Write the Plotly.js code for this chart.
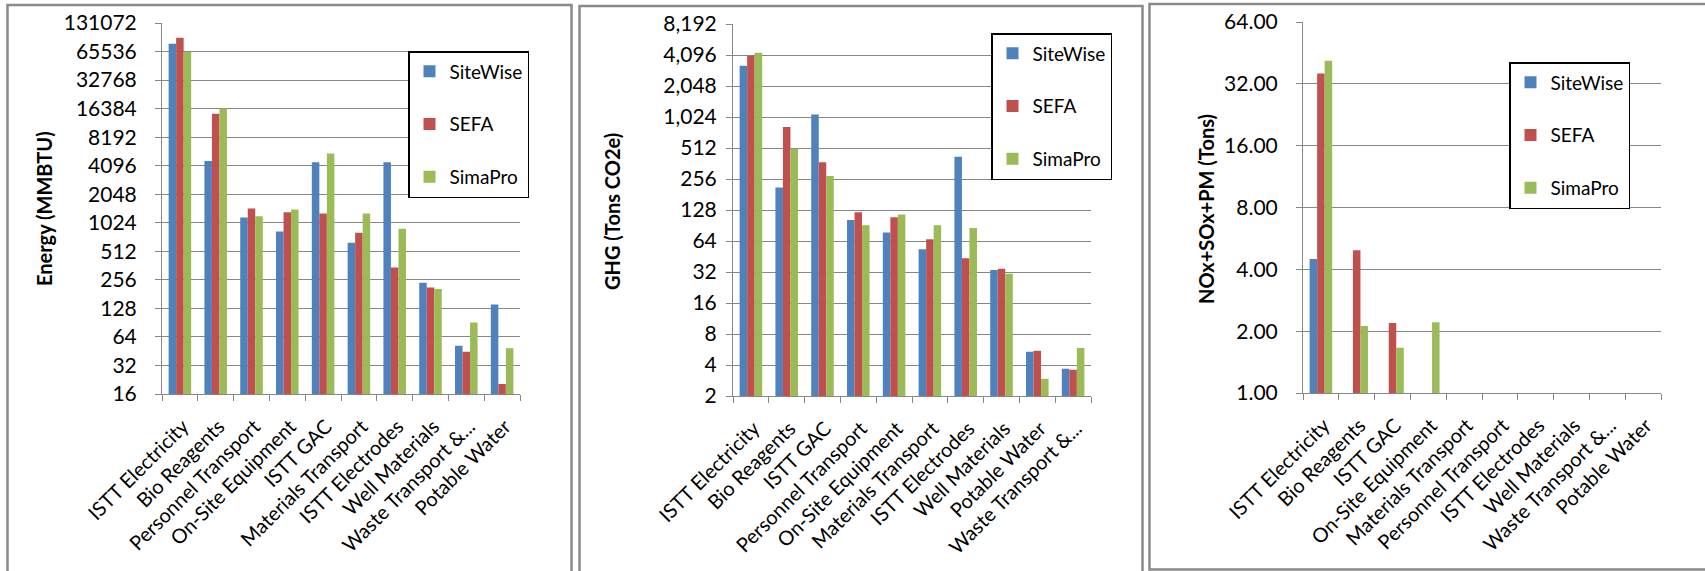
<!DOCTYPE html>
<html>
<head>
<meta charset="utf-8">
<script src="https://cdn.plot.ly/plotly-3.0.1.min.js"></script>
<style>html,body{margin:0;padding:0;background:#fff;}#chart{width:1705px;height:571px;}</style>
</head>
<body>
<div id="chart"></div>
<script>
// ---------- data ----------
const seriesNames = ["SiteWise", "SEFA", "SimaPro"];
const seriesColors = ["#4F81BD", "#C0504D", "#9BBB59"];

const energyCategories = ["ISTT Electricity", "Bio Reagents", "Personnel Transport", "On-Site Equipment", "ISTT GAC", "Materials Transport", "ISTT Electrodes", "Well Materials", "Waste Transport &...", "Potable Water"];
const energySiteWise = [79400, 4600, 1164, 829, 4460, 630, 4460, 239, 51.7, 141];
const energySEFA     = [91800, 14500, 1448, 1325, 1284, 803, 346, 213, 44.7, 20.4];
const energySimaPro  = [65000, 16384, 1200, 1415, 5500, 1284, 885, 205, 91, 48.5];
const energyTickVals = [16, 32, 64, 128, 256, 512, 1024, 2048, 4096, 8192, 16384, 32768, 65536, 131072];
const energyTickText = ["16", "32", "64", "128", "256", "512", "1024", "2048", "4096", "8192", "16384", "32768", "65536", "131072"];

const ghgCategories = ["ISTT Electricity", "Bio Reagents", "ISTT GAC", "Personnel Transport", "On-Site Equipment", "Materials Transport", "ISTT Electrodes", "Well Materials", "Potable Water", "Waste Transport &..."];
const ghgSiteWise = [3225, 212, 1085, 102.6, 77.3, 53.2, 420, 33.5, 5.39, 3.68];
const ghgSEFA     = [4030, 817, 373, 122, 109, 66.6, 43.5, 34.5, 5.51, 3.6];
const ghgSimaPro  = [4310, 503, 273, 91, 115.7, 91, 85.8, 30.7, 2.94, 5.85];
const ghgTickVals = [2, 4, 8, 16, 32, 64, 128, 256, 512, 1024, 2048, 4096, 8192];
const ghgTickText = ["2", "4", "8", "16", "32", "64", "128", "256", "512", "1,024", "2,048", "4,096", "8,192"];

const noxCategories = ["ISTT Electricity", "Bio Reagents", "ISTT GAC", "On-Site Equipment", "Materials Transport", "Personnel Transport", "ISTT Electrodes", "Well Materials", "Waste Transport &...", "Potable Water"];
const noxSiteWise = [4.49, null, null, null, null, null, null, null, null, null];
const noxSEFA     = [35.9, 4.95, 2.19, null, null, null, null, null, null, null];
const noxSimaPro  = [41.4, 2.12, 1.66, 2.21, null, null, null, null, null, null];
const noxTickVals = [1, 2, 4, 8, 16, 32, 64];
const noxTickText = ["1.00", "2.00", "4.00", "8.00", "16.00", "32.00", "64.00"];

const yTitles = ["Energy (MMBTU)", "GHG (Tons CO2e)", "NOx+SOx+PM (Tons)"];

// ---------- layout helpers ----------
const W = 1705, H = 571;
const px = x => x / W;
const py = y => 1 - y / H;
const FONT = "Lato, 'Open Sans', sans-serif";
const GRID = "#878787";

const panels = [
  {cats: energyCategories, vals: [energySiteWise, energySEFA, energySimaPro], tv: energyTickVals, tt: energyTickText,
   x0: 162, x1: 520, y0: 23, y1: 394, leg: [408, 51], title: [44, 209], standoff: 14},
  {cats: ghgCategories, vals: [ghgSiteWise, ghgSEFA, ghgSimaPro], tv: ghgTickVals, tt: ghgTickText,
   x0: 733, x1: 1091, y0: 24, y1: 396, leg: [991, 33], title: [612, 212], standoff: 5},
  {cats: noxCategories, vals: [noxSiteWise, noxSEFA, noxSimaPro], tv: noxTickVals, tt: noxTickText,
   x0: 1303, x1: 1661, y0: 22, y1: 393, leg: [1509, 62], title: [1206, 209], standoff: 14}
];

const traces = [];
const layout = {
  width: W, height: H,
  margin: {l: 0, r: 0, t: 0, b: 0},
  paper_bgcolor: "#fff", plot_bgcolor: "#fff",
  barmode: "group", bargap: 0.37, bargroupgap: 0,
  font: {family: FONT, size: 20, color: "#000"},
  showlegend: true,
  annotations: [], shapes: []
};

panels.forEach((p, i) => {
  const n = i === 0 ? "" : String(i + 1);
  const xa = "x" + n, ya = "y" + n;
  const legName = "legend" + n;
  seriesNames.forEach((s, k) => {
    traces.push({
      type: "bar", name: s, x: p.cats, y: p.vals[k],
      xaxis: xa, yaxis: ya,
      marker: {color: seriesColors[k], line: {width: 0}},
      legend: legName, legendgroup: "g" + i + "_" + k,
      hoverinfo: "x+y+name"
    });
  });
  const lo = Math.log10(p.tv[0]), hi = Math.log10(p.tv[p.tv.length - 1]);
  layout["xaxis" + n] = {
    domain: [px(p.x0), px(p.x1)], anchor: ya,
    type: "category", tickangle: -45, tickson: "boundaries",
    ticks: "outside", ticklen: 6, tickcolor: GRID, tickwidth: 1,
    ticklabelstandoff: 12, ticklabelshift: 3,
    showline: true, linecolor: GRID, linewidth: 1,
    showgrid: false, zeroline: false, fixedrange: true,
    tickfont: {family: FONT, size: 20, color: "#000"}
  };
  layout["yaxis" + n] = {
    domain: [py(p.y1), py(p.y0)], anchor: xa,
    type: "log", range: [lo, hi],
    tickmode: "array", tickvals: p.tv, ticktext: p.tt,
    ticks: "outside", ticklen: 6, tickcolor: GRID, tickwidth: 1,
    ticklabelstandoff: p.standoff,
    showline: true, linecolor: GRID, linewidth: 1,
    showgrid: true, gridcolor: GRID, gridwidth: 1,
    zeroline: false, fixedrange: true,
    tickfont: {family: FONT, size: 21, color: "#000"}
  };
  layout[legName] = {
    x: px(p.leg[0]), y: py(p.leg[1]), xanchor: "left", yanchor: "top",
    xref: "paper", yref: "paper",
    bgcolor: "#fff", bordercolor: "#000", borderwidth: 1.5,
    font: {family: FONT, size: 19, color: "#000"},
    traceorder: "grouped", tracegroupgap: 25,
    itemwidth: 30
  };
  layout.annotations.push({
    text: "<b>" + yTitles[i] + "</b>", textangle: -90,
    x: px(p.title[0]), y: py(p.title[1]), xref: "paper", yref: "paper",
    xanchor: "center", yanchor: "middle", showarrow: false,
    font: {family: FONT, size: 20, color: "#000"}
  });
});

// panel frames (Excel chart areas)
const frames = [[7.5, 571.5, 5, 580], [579.5, 1142.5, 6, 580], [1149.5, 1720, 4, 569.5]];
frames.forEach(f => {
  layout.shapes.push({
    type: "rect", xref: "paper", yref: "paper",
    x0: px(f[0]), x1: px(f[1]), y0: py(f[3]), y1: py(f[2]),
    line: {color: "#8a8a8a", width: 2.5}, fillcolor: "rgba(0,0,0,0)", layer: "above"
  });
});

Plotly.newPlot("chart", traces, layout, {staticPlot: true, displayModeBar: false});
</script>
</body>
</html>
